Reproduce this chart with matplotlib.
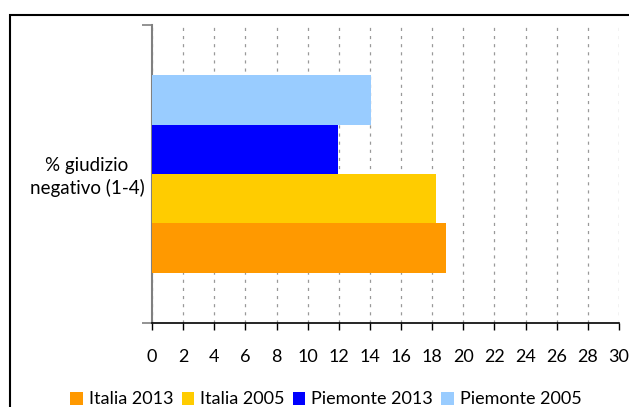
import matplotlib.pyplot as plt
from matplotlib.patches import Rectangle, Patch

# ========================
# DATA
# ========================
category = "% giudizio\nnegativo (1-4)"
series = ["Italia 2013", "Italia 2005", "Piemonte 2013", "Piemonte 2005"]
values = [18.88, 18.24, 11.95, 14.07]
colors = ["#FF9900", "#FFCC00", "#0000FF", "#99CCFF"]
xticks = list(range(0, 31, 2))

# ========================
# STYLE
# ========================
plt.rcParams['font.family'] = ['Lato', 'DejaVu Sans']
plt.rcParams['font.size'] = 13

W, H = 629, 407
fig = plt.figure(figsize=(W / 100, H / 100), dpi=100)
ax = fig.add_axes([152 / W, 1 - 323 / H, (619 - 152) / W, (323 - 25) / H])

# ========================
# BARS
# ========================
bar_h = 0.166
n = len(series)
for i, (name, val, col) in enumerate(zip(series, values, colors)):
    y = (i - (n - 1) / 2) * bar_h
    ax.barh(y, val, height=bar_h, color=col, label=name, zorder=3)

ax.set_xlim(0, 30)
ax.set_ylim(-0.5, 0.5)
ax.set_xticks(xticks)
ax.set_xticklabels([str(t) for t in xticks])
ax.tick_params(axis='x', length=5, width=1, color='black', pad=14, labelsize=13)

ax.set_yticks([-0.5, 0.5])
ax.set_yticklabels([])
ax.tick_params(axis='y', which='major', length=7, width=1.2, color='#808080')

# category label, left of the axis
fig.text(87 / W, 1 - 177 / H, category, ha='center', va='center',
         fontsize=13.5, linespacing=1.3)

ax.grid(axis='x', linestyle=(0, (2.5, 4)), color='#999999', linewidth=0.9, zorder=0)

ax.spines['top'].set_visible(False)
ax.spines['right'].set_visible(False)
ax.spines['left'].set_color('#808080')
ax.spines['left'].set_linewidth(1.5)
ax.spines['bottom'].set_color('black')
ax.spines['bottom'].set_linewidth(1.2)

# ========================
# LEGEND
# ========================
handles = [Patch(facecolor=c, label=s) for s, c in zip(series, colors)]
fig.legend(handles=handles, loc='center', bbox_to_anchor=(326 / W, 1 - 399.5 / H),
           ncol=4, frameon=False, fontsize=13, handlelength=0.7, handleheight=0.7,
           handletextpad=0.33, columnspacing=0.45, borderpad=0)

# outer chart border (cut off at right and bottom)
fig.patches.append(Rectangle((9.5 / W, -0.1), 1.1, 1.1 - 15 / H,
                             transform=fig.transFigure, fill=False,
                             edgecolor='black', linewidth=1.5))

plt.savefig("out.png", dpi=100)
plt.close()
